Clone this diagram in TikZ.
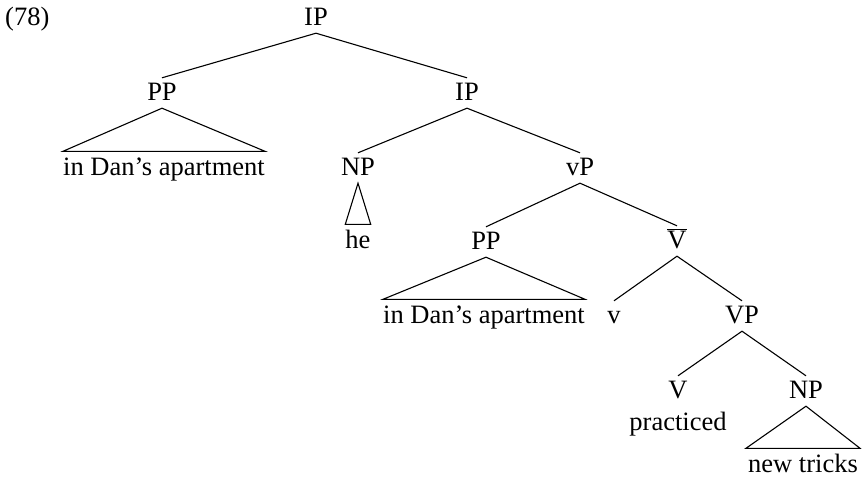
\documentclass[tikz,border=0pt]{standalone}
\usepackage{fontspec}
\setmainfont{Liberation Serif}
\begin{document}
\begin{tikzpicture}[x=1pt,y=-1pt,
  lab/.style={anchor=base,inner sep=0pt,text height=22pt,text depth=8pt,font=\fontsize{26.5}{30}\selectfont},
  leaf/.style={anchor=base,inner sep=0pt,text height=23.5pt,text depth=8pt,font=\fontsize{26.5}{30}\selectfont},
  edge/.style={line width=1.1pt,line join=miter},
]
\useasboundingbox (0,0) rectangle (863,477);
\node[lab,anchor=base west] (ex) at (5,25) {(78)};
\node[lab] (ip) at (316,25) {IP};
\node[lab] (pp) at (162,100) {PP};
\node[leaf] (ppt) at (164,175) {in Dan’s apartment};
\node[lab] (ip2) at (467,100) {IP};
\node[lab] (np) at (358,175) {NP};
\node[leaf] (he) at (358,248) {he};
\node[lab] (vp) at (580,175) {vP};
\node[lab] (pp2) at (486,249) {PP};
\node[leaf] (pp2t) at (484,323) {in Dan’s apartment};
\node[lab] (vbar) at (677,248) {$\overline{\mbox{V}}$};
\node[lab] (v) at (614,323) {v};
\node[lab] (VP) at (742,323) {VP};
\node[lab] (V) at (678,398) {V};
\node[lab] (np2) at (806,398) {NP};
\node[lab] (prac) at (678,430) {practiced};
\node[leaf,inner xsep=2pt] (np2t) at (803,472) {new tricks};
\draw[edge] (pp.north) -- (ip.south) -- (ip2.north);
\draw[edge] (pp.south) -- (ppt.north west) -- (ppt.north east) -- cycle;
\draw[edge] (np.north) -- (ip2.south) -- (vp.north);
\draw[edge] (np.south) -- (he.north west) -- (he.north east) -- cycle;
\draw[edge] (pp2.north) -- (vp.south) -- (vbar.north);
\draw[edge] (pp2.south) -- (pp2t.north west) -- (pp2t.north east) -- cycle;
\draw[edge] (v.north) -- (vbar.south) -- (VP.north);
\draw[edge] (V.north) -- (VP.south) -- (np2.north);
\draw[edge] (np2.south) -- (np2t.north west) -- (np2t.north east) -- cycle;
\end{tikzpicture}
\end{document}
